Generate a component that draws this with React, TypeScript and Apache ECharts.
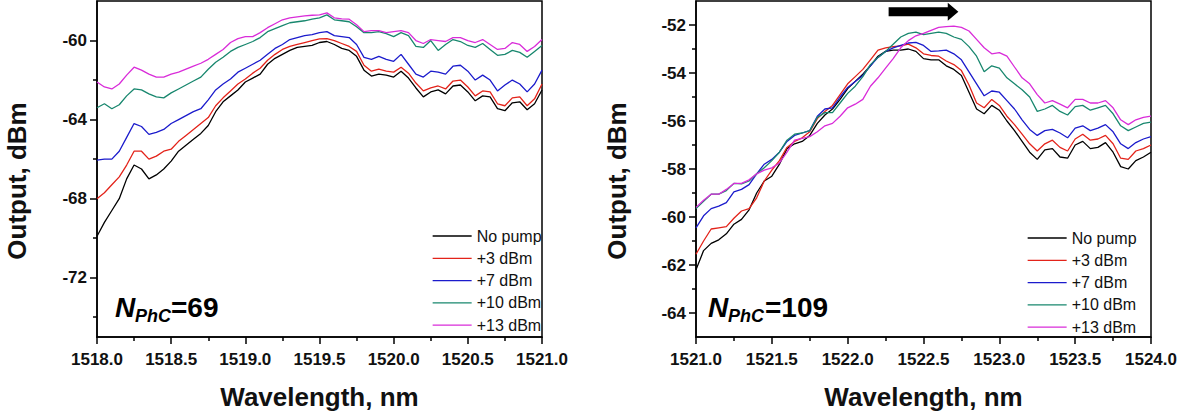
import React, { useEffect, useRef } from "react";
import * as echarts from "echarts";

// ---------- data ----------
const wavelengthLeft = [
  1518.0, 1518.05, 1518.1, 1518.15, 1518.2, 1518.25, 1518.3, 1518.35, 1518.4, 1518.45,
  1518.5, 1518.55, 1518.6, 1518.65, 1518.7, 1518.75, 1518.8, 1518.85, 1518.9, 1518.95,
  1519.0, 1519.05, 1519.1, 1519.15, 1519.2, 1519.25, 1519.3, 1519.35, 1519.4, 1519.45,
  1519.5, 1519.55, 1519.6, 1519.65, 1519.7, 1519.75, 1519.8, 1519.85, 1519.9, 1519.95,
  1520.0, 1520.05, 1520.1, 1520.15, 1520.2, 1520.25, 1520.3, 1520.35, 1520.4, 1520.45,
  1520.5, 1520.55, 1520.6, 1520.65, 1520.7, 1520.75, 1520.8, 1520.85, 1520.9, 1520.95,
  1521.0,
];
const wavelengthRight = [
  1521.0, 1521.05, 1521.1, 1521.15, 1521.2, 1521.25, 1521.3, 1521.35, 1521.4, 1521.45,
  1521.5, 1521.55, 1521.6, 1521.65, 1521.7, 1521.75, 1521.8, 1521.85, 1521.9, 1521.95,
  1522.0, 1522.05, 1522.1, 1522.15, 1522.2, 1522.25, 1522.3, 1522.35, 1522.4, 1522.45,
  1522.5, 1522.55, 1522.6, 1522.65, 1522.7, 1522.75, 1522.8, 1522.85, 1522.9, 1522.95,
  1523.0, 1523.05, 1523.1, 1523.15, 1523.2, 1523.25, 1523.3, 1523.35, 1523.4, 1523.45,
  1523.5, 1523.55, 1523.6, 1523.65, 1523.7, 1523.75, 1523.8, 1523.85, 1523.9, 1523.95,
  1524.0,
];

// N_PhC = 69
const leftNoPump = [
  -69.9, -69.2, -68.6, -68.0, -67.0, -66.3, -66.5, -67.0, -66.8, -66.5,
  -66.1, -65.6, -65.3, -65.0, -64.7, -64.3, -63.6, -63.1, -62.8, -62.5,
  -62.1, -61.9, -61.7, -61.2, -60.9, -60.7, -60.5, -60.35, -60.3, -60.25,
  -60.1, -60.05, -60.2, -60.4, -60.5, -60.8, -61.5, -61.8, -61.7, -61.75,
  -61.85, -61.55, -61.9, -62.4, -62.85, -62.6, -62.5, -62.7, -62.3, -62.25,
  -62.6, -63.05, -62.8, -62.85, -63.45, -63.55, -63.15, -63.1, -63.5, -63.2,
  -62.5,
];
const leftPlus3 = [
  -68.0, -67.7, -67.3, -66.9, -66.3, -65.6, -65.6, -66.0, -65.85, -65.6,
  -65.5, -65.1, -64.8, -64.5, -64.2, -63.9, -63.3, -62.9, -62.55, -62.2,
  -61.95, -61.65, -61.4, -61.0, -60.7, -60.45, -60.3, -60.2, -60.1, -60.0,
  -59.92, -59.9, -60.0, -60.15, -60.3, -60.55, -61.25, -61.55, -61.45, -61.55,
  -61.6, -61.35, -61.65, -62.15, -62.55, -62.4, -62.3, -62.45, -62.05, -62.0,
  -62.35, -62.8, -62.55, -62.6, -63.2, -63.3, -62.9, -62.85, -63.3, -62.95,
  -62.2,
];
const leftPlus7 = [
  -66.05, -66.0, -66.0, -65.6, -64.9, -64.2, -64.35, -64.75, -64.65, -64.5,
  -64.2, -64.0, -63.8, -63.6, -63.45, -63.0, -62.5, -62.2, -61.95, -61.6,
  -61.4, -61.2, -61.0, -60.7, -60.4, -60.2, -59.95, -59.85, -59.75, -59.7,
  -59.6, -59.55, -59.75, -59.8, -59.85, -60.2, -60.85, -60.95, -60.8, -60.95,
  -61.05, -60.7, -61.2, -61.7, -61.85, -61.55, -61.6, -61.7, -61.3, -61.25,
  -61.55, -62.0, -61.75, -62.0, -62.55, -62.25, -62.0, -62.2, -62.6, -62.2,
  -61.5,
];
const leftPlus10 = [
  -63.4, -63.2, -63.45, -63.25, -62.8, -62.45, -62.5, -62.7, -62.85, -62.9,
  -62.65, -62.45, -62.25, -62.05, -61.85, -61.45, -61.1, -60.85, -60.55, -60.35,
  -60.2, -60.05, -59.85, -59.55, -59.4, -59.25, -59.1, -59.05, -59.0, -58.92,
  -58.85, -58.7, -58.95, -59.0, -59.05, -59.3, -59.6, -59.6, -59.55, -59.65,
  -59.8, -59.6, -59.75, -60.3, -60.35, -60.0, -60.5, -60.2, -59.95, -60.05,
  -60.25, -60.35, -60.15, -60.45, -60.75, -60.7, -60.5, -60.6, -60.85, -60.55,
  -60.25,
];
const leftPlus13 = [
  -62.1, -62.35, -62.45, -62.2, -61.75, -61.35, -61.5, -61.7, -61.85, -61.85,
  -61.7, -61.6, -61.45, -61.3, -61.15, -60.95, -60.7, -60.45, -60.1, -59.9,
  -59.8, -59.8, -59.6, -59.35, -59.15, -58.95, -58.85, -58.8, -58.75, -58.72,
  -58.7, -58.6, -58.85, -58.9, -58.92, -59.2, -59.55, -59.5, -59.5, -59.6,
  -59.55, -59.5, -59.6, -60.0, -60.15, -59.95, -60.0, -60.05, -59.85, -59.85,
  -60.0, -60.1, -59.95, -60.2, -60.45, -60.4, -60.1, -60.2, -60.55, -60.3,
  -59.95,
];

// N_PhC = 109
const rightNoPump = [
  -62.2, -61.4, -61.1, -60.95, -60.7, -60.3, -60.1, -59.7, -59.0, -58.5,
  -58.3, -57.8, -57.15, -56.95, -56.85, -56.6, -56.1, -55.75, -55.5, -55.1,
  -54.65, -54.35, -54.05, -53.7, -53.3, -53.1, -53.05, -53.05, -53.0, -53.1,
  -53.4, -53.45, -53.45, -53.7, -53.85, -54.1, -54.8, -55.5, -55.7, -55.35,
  -55.55, -56.0, -56.4, -56.85, -57.3, -57.6, -57.2, -57.15, -57.5, -57.55,
  -57.0, -56.85, -57.15, -57.1, -56.9, -57.3, -57.9, -58.0, -57.65, -57.5,
  -57.3,
];
const rightPlus3 = [
  -61.55, -61.0, -60.5, -60.45, -60.4, -60.05, -59.75, -59.65, -59.2, -58.5,
  -58.05, -57.65, -57.1, -56.85, -56.7, -56.45, -55.9, -55.6, -55.35, -54.9,
  -54.45, -54.15, -53.85, -53.45, -53.05, -52.95, -52.9, -52.87, -52.8, -52.95,
  -53.2, -53.27, -53.3, -53.5, -53.65, -53.9, -54.5, -55.25, -55.45, -55.1,
  -55.35, -55.8, -56.15, -56.55, -56.95, -57.25, -56.95, -56.8, -57.1, -57.25,
  -56.75, -56.55, -56.8, -56.75, -56.6, -56.95, -57.55, -57.6, -57.25, -57.15,
  -57.0,
];
const rightPlus7 = [
  -60.45, -59.95, -59.65, -59.55, -59.4, -58.95, -58.85, -58.65, -58.2, -57.8,
  -57.6, -57.3, -56.85, -56.6, -56.5, -56.4, -55.8, -55.5, -55.45, -55.0,
  -54.6, -54.35, -54.1, -53.7, -53.35, -53.1, -52.95, -52.85, -52.75, -52.72,
  -52.85, -53.1, -53.08, -53.05, -53.2, -53.45, -53.95, -54.45, -54.95, -54.75,
  -54.8, -55.15, -55.5, -55.95, -56.35, -56.6, -56.4, -56.35, -56.5, -56.7,
  -56.3, -56.2, -56.4, -56.3, -56.15, -56.45, -56.95, -57.15, -56.9, -56.75,
  -56.65,
];
const rightPlus10 = [
  -59.65, -59.35, -59.05, -59.05, -58.9, -58.6, -58.62, -58.5, -58.2, -57.95,
  -57.65, -57.3, -56.8, -56.55, -56.5, -56.4, -55.85, -55.65, -55.65, -55.25,
  -54.85, -54.55, -54.15, -53.65, -53.35, -53.1, -52.8, -52.5, -52.35, -52.3,
  -52.4, -52.35, -52.3, -52.35, -52.5, -52.6, -52.9, -53.3, -53.95, -53.7,
  -53.8, -54.2, -54.45, -54.7, -55.0, -55.6, -55.5, -55.35, -55.6, -55.75,
  -55.4, -55.35, -55.55, -55.45, -55.35, -55.7, -56.2, -56.4, -56.25, -56.1,
  -56.05,
];
const rightPlus13 = [
  -59.6, -59.3, -59.05, -59.05, -58.85, -58.6, -58.6, -58.45, -58.2, -58.05,
  -57.95, -57.75, -57.3, -56.8, -56.72, -56.65, -56.45, -56.2, -56.1, -55.8,
  -55.45, -55.3, -55.1, -54.55, -54.2, -53.8, -53.4, -52.95, -52.65, -52.45,
  -52.35, -52.22, -52.1, -52.07, -52.05, -52.1, -52.25, -52.6, -52.95, -53.2,
  -53.15, -53.3, -53.75, -54.2, -54.45, -54.9, -55.25, -55.15, -55.3, -55.45,
  -55.1, -55.1, -55.25, -55.25, -55.15, -55.45, -55.95, -56.15, -55.95, -55.85,
  -55.8,
];

const seriesNames = ["No pump", "+3 dBm", "+7 dBm", "+10 dBm", "+13 dBm"];
const seriesColors = ["#000000", "#e3231a", "#1b1bcc", "#18876e", "#d92cd9"];
const leftSeries = [leftNoPump, leftPlus3, leftPlus7, leftPlus10, leftPlus13];
const rightSeries = [rightNoPump, rightPlus3, rightPlus7, rightPlus10, rightPlus13];

const leftMajorTicks = [-72, -68, -64, -60];
const leftMinorTicks = [-74, -70, -66, -62];
const rightMajorTicks = [-64, -62, -60, -58, -56, -54, -52];
const rightMinorTicks = [-63, -61, -59, -57, -55, -53];

const labelLeft = { n: "N", sub: "PhC", rest: "=69" };
const labelRight = { n: "N", sub: "PhC", rest: "=109" };
const xTitle = "Wavelength, nm";
const yTitle = "Output, dBm";

// arrow annotation (data coordinates, right panel)
const arrowStart = 1522.27;
const arrowHeadStart = 1522.66;
const arrowTip = 1522.73;
const arrowLevel = -51.45;

const FONT = '"Liberation Sans", Arial, sans-serif';

export default function App() {
  const ref = useRef<HTMLDivElement>(null);

  useEffect(() => {
    if (!ref.current) return;
    const chart = echarts.init(ref.current, undefined, { renderer: "svg" });

    const axisLineStyle = { color: "#000", width: 1.5 };
    const tickLabel = {
      color: "#111",
      fontSize: 17,
      fontWeight: "bold" as const,
      fontFamily: FONT,
    };

    const xAxisCommon = (gridIndex: number, min: number, max: number) => ({
      type: "value" as const,
      gridIndex,
      min,
      max,
      interval: 0.5,
      name: xTitle,
      nameLocation: "middle" as const,
      nameGap: 47,
      nameTextStyle: {
        color: "#111",
        fontSize: 26,
        fontWeight: "bold" as const,
        fontFamily: FONT,
      },
      axisLine: { show: true, onZero: false, lineStyle: axisLineStyle },
      axisTick: { show: true, inside: false, length: 7, lineStyle: axisLineStyle },
      minorTick: { show: true, splitNumber: 2, length: 4, lineStyle: axisLineStyle },
      axisLabel: { ...tickLabel, margin: 14, formatter: (v: number) => v.toFixed(1) },
      splitLine: { show: false },
      minorSplitLine: { show: false },
    });

    const yMajor = (gridIndex: number, min: number, max: number, ticks: number[]) => ({
      type: "value" as const,
      gridIndex,
      min,
      max,
      position: "left" as const,
      axisLine: { show: true, onZero: false, lineStyle: axisLineStyle },
      axisTick: { show: true, inside: false, length: 7, customValues: ticks, lineStyle: axisLineStyle },
      axisLabel: { ...tickLabel, margin: 10, customValues: ticks },
      splitLine: { show: false },
    });
    const yMinor = (gridIndex: number, min: number, max: number, ticks: number[]) => ({
      type: "value" as const,
      gridIndex,
      min,
      max,
      position: "left" as const,
      axisLine: { show: false },
      axisTick: { show: true, inside: false, length: 4, customValues: ticks, lineStyle: axisLineStyle },
      axisLabel: { show: false, customValues: ticks },
      splitLine: { show: false },
    });

    const makeSeries = (values: number[][], wl: number[], xi: number, yi: number) =>
      values.map((vals, k) => ({
        type: "line" as const,
        name: seriesNames[k],
        xAxisIndex: xi,
        yAxisIndex: yi,
        data: vals.map((v, i) => [wl[i], v]),
        symbol: "none",
        showSymbol: false,
        lineStyle: { color: seriesColors[k], width: 1.3 },
        itemStyle: { color: seriesColors[k] },
        emphasis: { disabled: true },
      }));

    const legendCommon = {
      data: seriesNames,
      orient: "vertical" as const,
      padding: 0,
      itemWidth: 39,
      itemHeight: 14,
      itemGap: 6.3,
      selectedMode: false,
      itemStyle: { opacity: 0 },
      lineStyle: { width: 1.3 },
      textStyle: { fontSize: 16, lineHeight: 14, color: "#111", fontFamily: FONT },
    };

    chart.setOption({
      animation: false,
      backgroundColor: "#ffffff",
      grid: [
        { left: 97, top: 1, width: 445, height: 339, show: true, borderColor: "#000", borderWidth: 1.5, backgroundColor: "transparent" },
        { left: 696, top: 1, width: 455, height: 340, show: true, borderColor: "#000", borderWidth: 1.5, backgroundColor: "transparent" },
      ],
      xAxis: [xAxisCommon(0, 1518, 1521), xAxisCommon(1, 1521, 1524)],
      yAxis: [
        yMajor(0, -75, -58, leftMajorTicks),
        yMinor(0, -75, -58, leftMinorTicks),
        yMajor(1, -65, -51, rightMajorTicks),
        yMinor(1, -65, -51, rightMinorTicks),
      ],
      legend: [
        { ...legendCommon, left: 432, top: 228 },
        { ...legendCommon, left: 1027, top: 230 },
      ],
      tooltip: { show: false },
      series: [
        ...makeSeries(leftSeries, wavelengthLeft, 0, 0),
        ...makeSeries(rightSeries, wavelengthRight, 1, 2),
      ],
    });

    const a0 = chart.convertToPixel({ seriesIndex: 5 }, [arrowStart, arrowLevel]) as number[];
    const a1 = chart.convertToPixel({ seriesIndex: 5 }, [arrowHeadStart, arrowLevel]) as number[];
    const a2 = chart.convertToPixel({ seriesIndex: 5 }, [arrowTip, arrowLevel]) as number[];
    const sh = 4.5;
    const hh = 9;

    const bigText = (text: string, x: number, y: number, size: number, italic: boolean) => ({
      type: "text" as const,
      x,
      y,
      style: {
        text,
        fontSize: size,
        fontWeight: "bold",
        fontStyle: italic ? "italic" : "normal",
        fontFamily: FONT,
        fill: "#000",
        align: "left",
        verticalAlign: "middle",
      },
    });

    chart.setOption({
      graphic: {
        elements: [
          {
            type: "text",
            x: 17,
            y: 181,
            rotation: Math.PI / 2,
            style: { text: yTitle, fontSize: 26, fontWeight: "bold", fontFamily: FONT, fill: "#111", align: "center", verticalAlign: "middle" },
          },
          {
            type: "text",
            x: 617,
            y: 181,
            rotation: Math.PI / 2,
            style: { text: yTitle, fontSize: 26, fontWeight: "bold", fontFamily: FONT, fill: "#111", align: "center", verticalAlign: "middle" },
          },
          bigText(labelLeft.n, 115, 307, 28, true),
          bigText(labelLeft.sub, 135, 316, 18, true),
          bigText(labelLeft.rest, 171, 307, 28, false),
          bigText(labelRight.n, 708, 307, 28, true),
          bigText(labelRight.sub, 728, 316, 18, true),
          bigText(labelRight.rest, 765, 307, 28, false),
          {
            type: "polygon",
            shape: {
              points: [
                [a0[0], a0[1] - sh],
                [a1[0], a1[1] - sh],
                [a1[0], a1[1] - hh],
                [a2[0], a2[1]],
                [a1[0], a1[1] + hh],
                [a1[0], a1[1] + sh],
                [a0[0], a0[1] + sh],
              ],
            },
            style: { fill: "#000" },
          },
        ],
      },
    });

    return () => chart.dispose();
  }, []);

  return (
    <div
      ref={ref}
      style={{ position: "absolute", left: 0, top: 0, width: 1188, height: 415, background: "#fff" }}
    />
  );
}
